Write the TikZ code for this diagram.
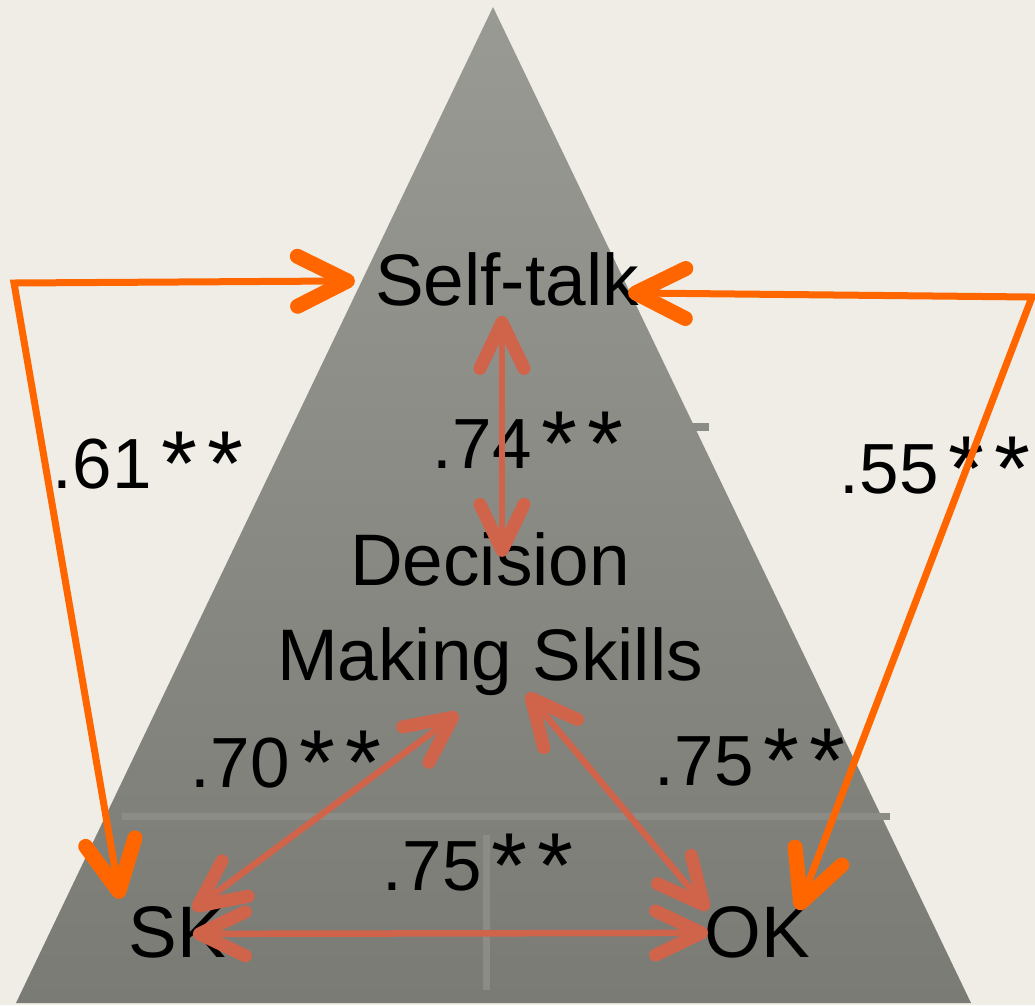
\documentclass[tikz,border=0pt]{standalone}
\usepackage{fontspec}
\setmainfont{Liberation Sans}
\usetikzlibrary{arrows.meta}

\definecolor{paper}{HTML}{EFEDE5}
\definecolor{pyrtop}{HTML}{9A9A94}
\definecolor{pyrbot}{HTML}{7B7B75}
\definecolor{rulegrey}{HTML}{8C8C86}
\definecolor{linkO}{HTML}{FF6600}
\definecolor{linkR}{HTML}{D0644B}

\newcommand{\sigstars}{\kern.14em\raisebox{-.1em}{\scalebox{1.3}{*}}\kern.14em\raisebox{-.1em}{\scalebox{1.3}{*}}}

\begin{document}
\begin{tikzpicture}[x=1pt, y=-1pt]
			
			\tikzset{
				lbl/.style={inner sep=0pt, anchor=base, font=\fontsize{73}{80}\selectfont},
				coef/.style={inner sep=0pt, anchor=base, font=\fontsize{71}{80}\selectfont},
				faint/.style={rulegrey, line width=7pt},
				obarb/.tip={Straight Barb[length=50pt, width=50pt, line width=15pt, round]},
				rbarb/.tip={Straight Barb[length=46pt, width=44pt, line width=13pt, round]},
				olink/.style={linkO, line width=7pt, arrows={obarb-obarb}},
				rlink/.style={linkR, line width=6.5pt, arrows={rbarb-rbarb}}
			}
			
			% ---------------------------
			% background and pyramid
			% ---------------------------
			\useasboundingbox (0,0) rectangle (1035,1005);
			\fill[paper] (0,0) rectangle (1035,1005);
			\shade[top color=pyrtop, bottom color=pyrbot] (493,7) -- (971,1003) -- (16,1003) -- cycle;
			
			% left-over table rules
			\draw[faint] (122,816) -- (890,816);
			\draw[faint] (486,835) -- (486,990);
			\draw[faint, line width=8pt] (692,427) -- (709,427);
			
			% ---------------------------
			% constructs
			% ---------------------------
			\node[lbl] (st) at (507,305) {Self-talk};
			\node[lbl] (dm1) at (490,585) {Decision};
			\node[lbl] (dm2) at (490,680) {Making Skills};
			\node[lbl] (sk) at (177,957) {SK};
			\node[lbl] (ok) at (757,957) {OK};
			
			% correlations
			\node[coef] (c61) at (148,488) {.61\sigstars};
			\node[coef] (c74) at (528,468) {.74\sigstars};
			\node[coef] (c55) at (935,493) {.55\sigstars};
			\node[coef] (c70) at (286,787) {.70\sigstars};
			\node[coef] (c75a) at (750,785) {.75\sigstars};
			\node[coef] (c75b) at (478,890) {.75\sigstars};
			
			% ---------------------------
			% outer links (orange)
			% ---------------------------
			\coordinate (lc) at (14,283);
			\coordinate (rc) at (1032,297);
			\draw[olink] ([shift={(-20,2)}]st.west) -- (lc) -- ([shift={(-8,-7)}]sk.north west);
			\draw[olink] ([shift={(-11,14)}]st.east) -- (rc) -- ([shift={(-12,4)}]ok.north east);
			
			% ---------------------------
			% inner links (red)
			% ---------------------------
			\draw[rlink] ([shift={(-5,10)}]st.south) -- ([shift={(12,25)}]dm1.north);
			\draw[rlink] ([shift={(-32,18)}]dm2.south) -- ([shift={(-33,4)}]sk.north east);
			\draw[rlink] ([shift={(37,-2)}]dm2.south) -- ([shift={(4,4)}]ok.north west);
			\draw[rlink] ([shift={(-33,2)}]sk.east) -- ([shift={(4,1)}]ok.west);
			
		\end{tikzpicture}
\end{document}
